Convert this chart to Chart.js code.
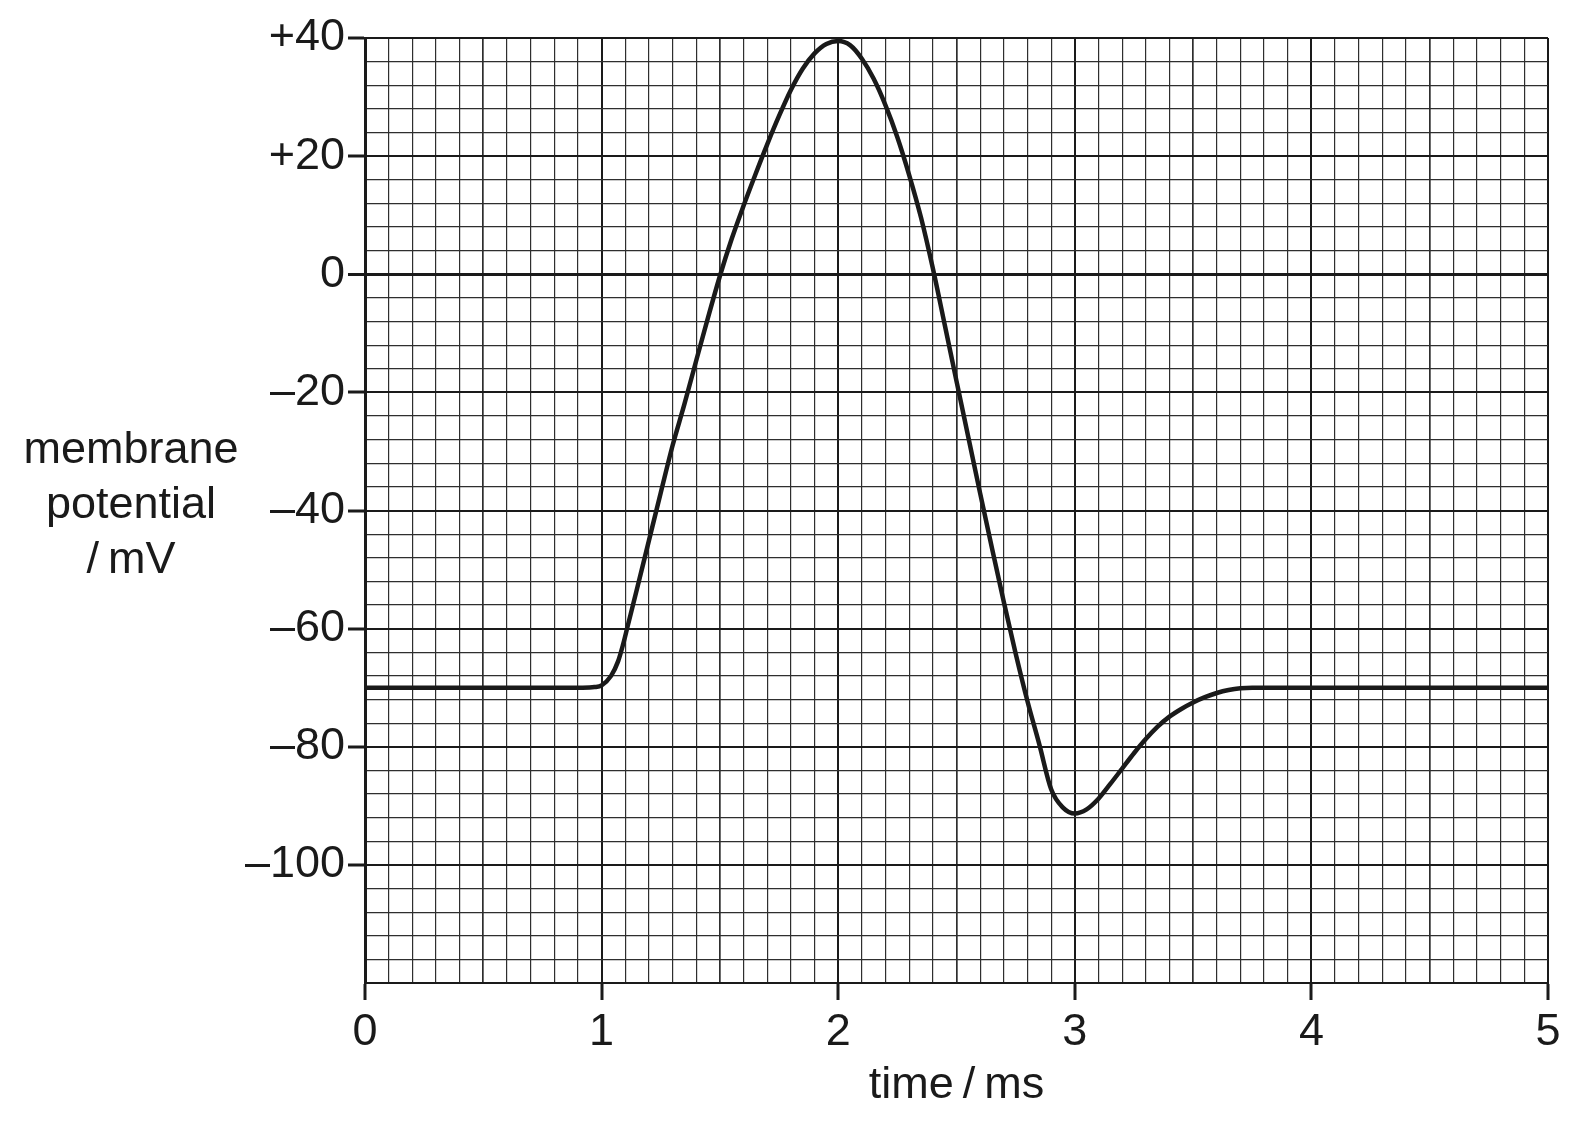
<!DOCTYPE html>
<html>
<head>
<meta charset="utf-8">
<script src="https://cdn.jsdelivr.net/npm/chart.js@4.4.1/dist/chart.umd.min.js"></script>
<style>
  html, body { margin: 0; padding: 0; background: #fff; }
  canvas { display: block; }
</style>
</head>
<body>
<canvas id="apChart" width="1577" height="1123"></canvas>
<script>
// action potential (time in ms, potential in mV)
const timeMs = [0, 0.5, 0.92, 0.97, 1.0, 1.04, 1.07, 1.09, 1.11, 1.15, 1.2, 1.25, 1.3, 1.35, 1.4, 1.45, 1.5,
  1.55, 1.6, 1.65, 1.7, 1.75, 1.8, 1.85, 1.9, 1.95, 2.0, 2.05, 2.1, 2.15, 2.2, 2.25, 2.3, 2.35, 2.4,
  2.45, 2.5, 2.55, 2.6, 2.65, 2.7, 2.75, 2.8, 2.85, 2.9, 2.95, 3.0, 3.05, 3.1, 3.15, 3.2, 3.25, 3.3,
  3.35, 3.4, 3.45, 3.5, 3.55, 3.6, 3.65, 3.7, 3.75, 5];
const potentialMv = [-70, -70, -70, -69.9, -69.6, -68, -65.5, -62.8, -59.6, -53.2, -45.1, -37, -29, -22, -14.6, -7.3, -0.3,
  6, 11.6, 16.9, 22, 26.8, 31.2, 34.8, 37.4, 39, 39.5, 38.8, 36.5, 33.1, 28.6, 23.2, 16.8, 9.6, 1,
  -8.5, -18.1, -27.6, -37.1, -46.4, -55.5, -64.2, -72.3, -79.6, -87.2, -90.3, -91.3, -90.6, -88.8, -86.3, -83.7, -81.1, -78.7,
  -76.6, -74.9, -73.6, -72.5, -71.6, -70.9, -70.4, -70.1, -70, -70];

const xTickValues = [0, 1, 2, 3, 4, 5];
const xTickLabels = ['0', '1', '2', '3', '4', '5'];
const yTickValues = [40, 20, 0, -20, -40, -60, -80, -100];
const yTickLabels = ['+40', '+20', '0', '\u201320', '\u201340', '\u201360', '\u201380', '\u2013100'];
const yTitleLines = ['membrane', 'potential', '/\u2009mV'];
const xTitle = 'time\u2009/\u2009ms';

const ink = '#1a1a1a';
const minorInk = '#2e2e2e';
const fontFamily = '"Liberation Sans", Arial, Helvetica, sans-serif';
Chart.defaults.font.family = fontFamily;
Chart.defaults.color = ink;

const near = (a, b) => Math.abs(a - b) < 1e-6;
const labelFor = (values, labels, v) => {
  const i = values.findIndex(t => near(t, v));
  return i < 0 ? '' : labels[i];
};
const isWholeMs = v => near(v, Math.round(v));
const isHalfMs = v => near(v * 2, Math.round(v * 2));

// horizontal y-axis caption, three centred lines
const yTitlePlugin = {
  id: 'yTitle',
  afterDraw(chart) {
    const ctx = chart.ctx;
    ctx.save();
    ctx.font = '45px ' + fontFamily;
    ctx.fillStyle = ink;
    ctx.textAlign = 'center';
    ctx.textBaseline = 'alphabetic';
    yTitleLines.forEach((line, i) => ctx.fillText(line, 131, 463 + i * 55));
    ctx.restore();
  }
};

new Chart(document.getElementById('apChart').getContext('2d'), {
  type: 'line',
  data: {
    datasets: [{
      data: timeMs.map((t, i) => ({ x: t, y: potentialMv[i] })),
      borderColor: ink,
      borderWidth: 4.5,
      pointRadius: 0,
      fill: false,
      cubicInterpolationMode: 'monotone'
    }]
  },
  options: {
    responsive: false,
    devicePixelRatio: 1,
    animation: false,
    layout: { padding: { top: 38, right: 29, bottom: 0, left: 0 } },
    plugins: {
      legend: { display: false },
      tooltip: { enabled: false }
    },
    scales: {
      x: {
        type: 'linear',
        min: 0,
        max: 5,
        ticks: {
          stepSize: 0.1,
          autoSkip: false,
          maxRotation: 0,
          padding: 6,
          font: { size: 45 },
          callback: v => labelFor(xTickValues, xTickLabels, v)
        },
        grid: {
          color: c => (c.tick && isWholeMs(c.tick.value)) ? ink : minorInk,
          lineWidth: c => !c.tick ? 1 : isWholeMs(c.tick.value) ? 2 : isHalfMs(c.tick.value) ? 1.7 : 1.2,
          tickLength: 17,
          tickWidth: 3,
          tickColor: c => (c.tick && isWholeMs(c.tick.value)) ? ink : 'rgba(0,0,0,0)'
        },
        border: { color: ink, width: 2 },
        title: {
          display: true,
          text: xTitle,
          font: { size: 45 },
          padding: { top: 0, bottom: 10 }
        },
        afterFit: s => { s.height = 140; }
      },
      y: {
        type: 'linear',
        min: -120,
        max: 40,
        ticks: {
          stepSize: 4,
          autoSkip: false,
          padding: 3,
          font: { size: 45 },
          callback: v => labelFor(yTickValues, yTickLabels, v)
        },
        grid: {
          color: c => (c.tick && c.tick.value % 20 === 0) ? ink : minorInk,
          lineWidth: c => !c.tick ? 1 : c.tick.value === 0 ? 3 : c.tick.value % 20 === 0 ? 2 : 1.2,
          tickLength: 17,
          tickWidth: 3,
          tickColor: c => (c.tick && labelFor(yTickValues, yTickLabels, c.tick.value)) ? ink : 'rgba(0,0,0,0)'
        },
        border: { color: ink, width: 3 },
        afterFit: s => { s.width = 365; }
      }
    }
  },
  plugins: [yTitlePlugin]
});
</script>
</body>
</html>
